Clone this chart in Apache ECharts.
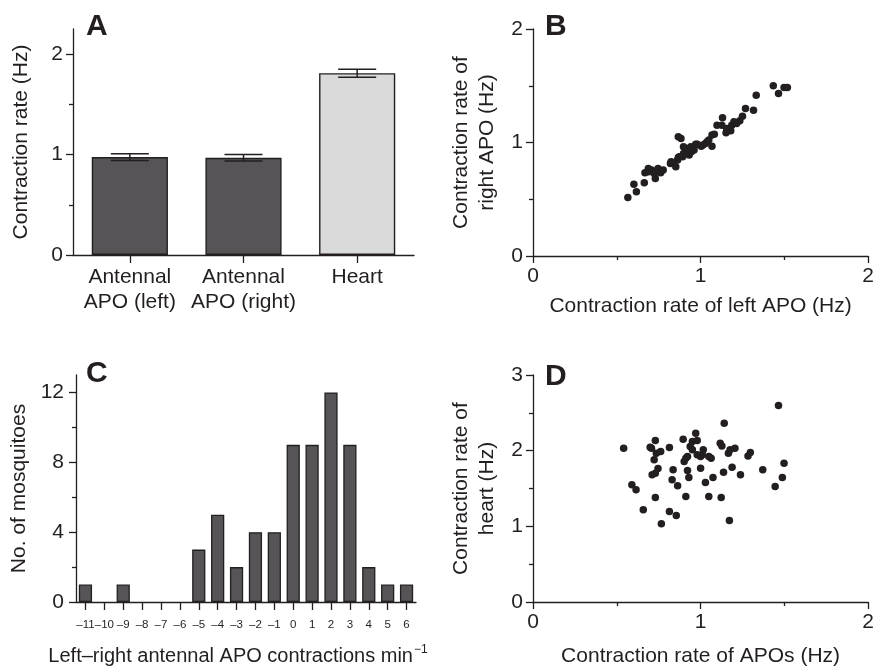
<!DOCTYPE html>
<html>
<head>
<meta charset="utf-8">
<script src="https://cdn.jsdelivr.net/npm/echarts@6/dist/echarts.min.js"></script>
<style>html,body{margin:0;padding:0;background:#fff}#c{width:877px;height:668px}</style>
</head>
<body>
<div id="c"></div>
<script>
// ---------- Panel A ----------
const barCats = ['Antennal\nAPO (left)', 'Antennal\nAPO (right)', 'Heart'];
const barMeans = [0.975, 0.968, 1.81];
const barErrs = [0.034, 0.033, 0.04];
const barFills = ['#565456', '#565456', '#dadada'];
const aMajorTicks = [0, 1, 2];
const aMinorTicks = [0.5, 1.5];

// ---------- Panel B ----------
const bLeft = [0.566,0.602,0.617,0.664,0.668,0.688,0.707,0.723,0.730,0.742,0.762,0.777,0.820,0.836,0.852,0.863,0.867,0.883,0.867,0.898,0.898,0.918,0.932,0.945,0.971,1.004,1.029,1.049,1.068,1.068,1.082,1.098,1.127,1.131,1.152,1.180,1.186,1.199,1.234,1.250,1.268,1.316,1.332,1.434,1.465,1.498,1.518,0.912,0.961,0.980,0.824,0.688,0.941,0.893,1.039,1.215,1.156,0.873,0.746,0.922,1.014];
const bRight = [0.516,0.633,0.566,0.645,0.733,0.771,0.757,0.727,0.683,0.742,0.733,0.757,0.815,0.824,0.786,0.845,1.050,1.035,0.868,0.962,0.903,0.918,0.889,0.918,0.985,0.968,0.991,1.021,0.968,1.065,1.073,1.152,1.152,1.217,1.085,1.103,1.152,1.182,1.191,1.232,1.299,1.284,1.416,1.499,1.431,1.484,1.484,0.947,0.933,0.985,0.830,0.742,0.962,0.874,1.006,1.167,1.123,0.874,0.771,0.903,0.977];

// ---------- Panel C ----------
const histCats = ['–11','–10','–9','–8','–7','–6','–5','–4','–3','–2','–1','0','1','2','3','4','5','6'];
const histCounts = [1,0,1,0,0,0,3,5,2,4,4,9,9,12,9,2,1,1];
const cMajorTicks = [0, 4, 8, 12];
const cMinorTicks = [2, 6, 10];

// ---------- Panel D ----------
const dApo = [0.541,0.590,0.615,0.658,0.699,0.707,0.730,0.723,0.736,0.762,0.711,0.730,0.746,0.730,0.766,0.814,0.836,0.830,0.863,0.814,0.855,0.896,0.902,0.912,0.922,0.922,0.930,0.912,0.938,0.951,0.971,0.980,0.951,0.980,1.000,1.016,1.010,1.000,1.029,1.049,1.063,1.074,1.049,1.117,1.127,1.141,1.137,1.123,1.172,1.166,1.176,1.205,1.188,1.238,1.283,1.297,1.371,1.445,1.465,1.488,1.498];
const dHeart = [2.033,1.549,1.483,1.219,2.046,2.033,2.134,1.879,1.967,1.989,1.681,1.703,1.764,1.381,1.034,2.041,1.747,1.615,1.535,1.197,1.144,2.151,1.857,1.901,1.923,1.738,1.645,1.395,2.055,2.121,2.230,2.134,2.011,1.945,1.923,2.011,1.945,1.769,1.579,1.923,1.901,1.645,1.395,2.099,2.063,2.362,1.716,1.381,1.078,1.967,2.011,2.033,1.782,1.681,1.931,1.975,1.747,1.527,2.596,1.645,1.835];

const INK = '#231f20';
const FONT = 'Liberation Sans, Arial, Helvetica, sans-serif';
const FS = 21;
const axisLine = {show: true, lineStyle: {color: INK, width: 1.3}};
const tickStyle = {color: INK, width: 1.3};

function zip(a, b) { return a.map((v, i) => [v, b[i]]); }

function valueAxisB(grid, name, gap) {
  return {
    type: 'value', gridIndex: grid, min: 0, max: 2, interval: 1,
    axisLine, splitLine: {show: false},
    axisTick: {show: true, length: 7, lineStyle: tickStyle},
    minorTick: {show: true, splitNumber: 2, length: 4, lineStyle: tickStyle},
    minorSplitLine: {show: false},
    axisLabel: {color: INK, fontSize: FS, fontFamily: FONT, margin: 10},
    name, nameLocation: 'middle', nameGap: gap,
    nameTextStyle: {color: INK, fontSize: FS, fontFamily: FONT}
  };
}

const chart = echarts.init(document.getElementById('c'), null, {renderer: 'canvas'});
const option = {
  animation: false,
  backgroundColor: '#fff',
  textStyle: {fontFamily: FONT, color: INK},
  grid: [
    {left: 73, top: 29, width: 341, height: 226},
    {left: 533, top: 29, width: 341, height: 227},
    {left: 76, top: 375, width: 340, height: 227},
    {left: 533, top: 375, width: 341, height: 227}
  ],
  xAxis: [
    {
      type: 'category', gridIndex: 0, data: barCats,
      axisLine, axisTick: {show: true, alignWithLabel: true, length: 8, lineStyle: tickStyle},
      axisLabel: {color: INK, fontSize: FS, lineHeight: 25, fontFamily: FONT, margin: 10, interval: 0}
    },
    valueAxisB(1, 'Contraction rate of left APO (Hz)', 40),
    {
      type: 'category', gridIndex: 2, data: histCats,
      axisLine, axisTick: {show: true, alignWithLabel: true, length: 8, lineStyle: tickStyle, interval: 0},
      axisLabel: {color: INK, fontSize: 11.5, fontFamily: FONT, margin: 17, interval: 0},
      name: 'Left–right antennal APO contractions min{sup|−1}',
      nameLocation: 'middle', nameGap: 42,
      nameTextStyle: {color: INK, fontSize: 20, fontFamily: FONT, padding: [0, 16, 0, 0],
        rich: {sup: {fontSize: 12, fontFamily: FONT, color: INK, verticalAlign: 'top', padding: [0, 0, 12, 1]}}}
    },
    valueAxisB(3, 'Contraction rate of APOs (Hz)', 44)
  ],
  yAxis: [
    {
      type: 'value', gridIndex: 0, min: 0, max: 2.25, position: 'left',
      axisLine, splitLine: {show: false},
      axisTick: {show: true, length: 7, lineStyle: tickStyle, customValues: aMajorTicks},
      axisLabel: {color: INK, fontSize: FS, fontFamily: FONT, margin: 10, customValues: aMajorTicks},
      name: 'Contraction rate (Hz)', nameLocation: 'middle', nameGap: 41,
      nameTextStyle: {color: INK, fontSize: FS, fontFamily: FONT}
    },
    {
      type: 'value', gridIndex: 0, min: 0, max: 2.25, position: 'left',
      axisLine: {show: false}, splitLine: {show: false}, axisLabel: {show: false},
      axisTick: {show: true, length: 4, lineStyle: tickStyle, customValues: aMinorTicks}
    },
    Object.assign(valueAxisB(1, 'Contraction rate of\nright APO (Hz)', 33), {
      nameTextStyle: {color: INK, fontSize: FS, fontFamily: FONT, lineHeight: 26}
    }),
    {
      type: 'value', gridIndex: 2, min: 0, max: 13, position: 'left',
      axisLine, splitLine: {show: false},
      axisTick: {show: true, length: 7, lineStyle: tickStyle, customValues: cMajorTicks},
      axisLabel: {color: INK, fontSize: FS, fontFamily: FONT, margin: 12, customValues: cMajorTicks},
      name: 'No. of mosquitoes', nameLocation: 'middle', nameGap: 46,
      nameTextStyle: {color: INK, fontSize: FS, fontFamily: FONT}
    },
    {
      type: 'value', gridIndex: 2, min: 0, max: 13, position: 'left',
      axisLine: {show: false}, splitLine: {show: false}, axisLabel: {show: false},
      axisTick: {show: true, length: 4, lineStyle: tickStyle, customValues: cMinorTicks}
    },
    Object.assign(valueAxisB(3, 'Contraction rate of\nheart (Hz)', 33), {
      max: 3,
      nameTextStyle: {color: INK, fontSize: FS, fontFamily: FONT, lineHeight: 26}
    })
  ],
  series: [
    {
      type: 'bar', xAxisIndex: 0, yAxisIndex: 0, barWidth: '67%',
      data: barMeans.map((v, i) => ({value: v, itemStyle: {color: barFills[i]}})),
      itemStyle: {borderColor: INK, borderWidth: 1.4}
    },
    {
      type: 'custom', xAxisIndex: 0, yAxisIndex: 0, z: 5,
      data: barMeans.map((v, i) => [i, v, barErrs[i]]),
      renderItem: function (params, api) {
        const x = api.value(0), m = api.value(1), e = api.value(2);
        const top = api.coord([x, m + e]);
        const bot = api.coord([x, m - e]);
        const hw = 19;
        const s = {stroke: INK, lineWidth: 1.5};
        return {type: 'group', children: [
          {type: 'line', shape: {x1: top[0], y1: top[1], x2: bot[0], y2: bot[1]}, style: s},
          {type: 'line', shape: {x1: top[0] - hw, y1: top[1], x2: top[0] + hw, y2: top[1]}, style: s},
          {type: 'line', shape: {x1: bot[0] - hw, y1: bot[1], x2: bot[0] + hw, y2: bot[1]}, style: s}
        ]};
      }
    },
    {
      type: 'scatter', xAxisIndex: 1, yAxisIndex: 2, symbolSize: 7.5,
      itemStyle: {color: INK, opacity: 1}, data: zip(bLeft, bRight)
    },
    {
      type: 'bar', xAxisIndex: 2, yAxisIndex: 3, barWidth: '70%',
      itemStyle: {color: '#565456', borderColor: INK, borderWidth: 1.3},
      data: histCounts.map(v => (v === 0 ? '-' : v))
    },
    {
      type: 'scatter', xAxisIndex: 3, yAxisIndex: 5, symbolSize: 7.5,
      itemStyle: {color: INK, opacity: 1}, data: zip(dApo, dHeart)
    }
  ],
  graphic: [
    {type: 'text', left: 86, top: 12, style: {text: 'A', fontSize: 30, fontWeight: 'bold', fontFamily: FONT, fill: INK}},
    {type: 'text', left: 545, top: 12, style: {text: 'B', fontSize: 30, fontWeight: 'bold', fontFamily: FONT, fill: INK}},
    {type: 'text', left: 86, top: 359, style: {text: 'C', fontSize: 30, fontWeight: 'bold', fontFamily: FONT, fill: INK}},
    {type: 'text', left: 545, top: 362, style: {text: 'D', fontSize: 30, fontWeight: 'bold', fontFamily: FONT, fill: INK}}
  ]
};
chart.setOption(option);
</script>
</body>
</html>
